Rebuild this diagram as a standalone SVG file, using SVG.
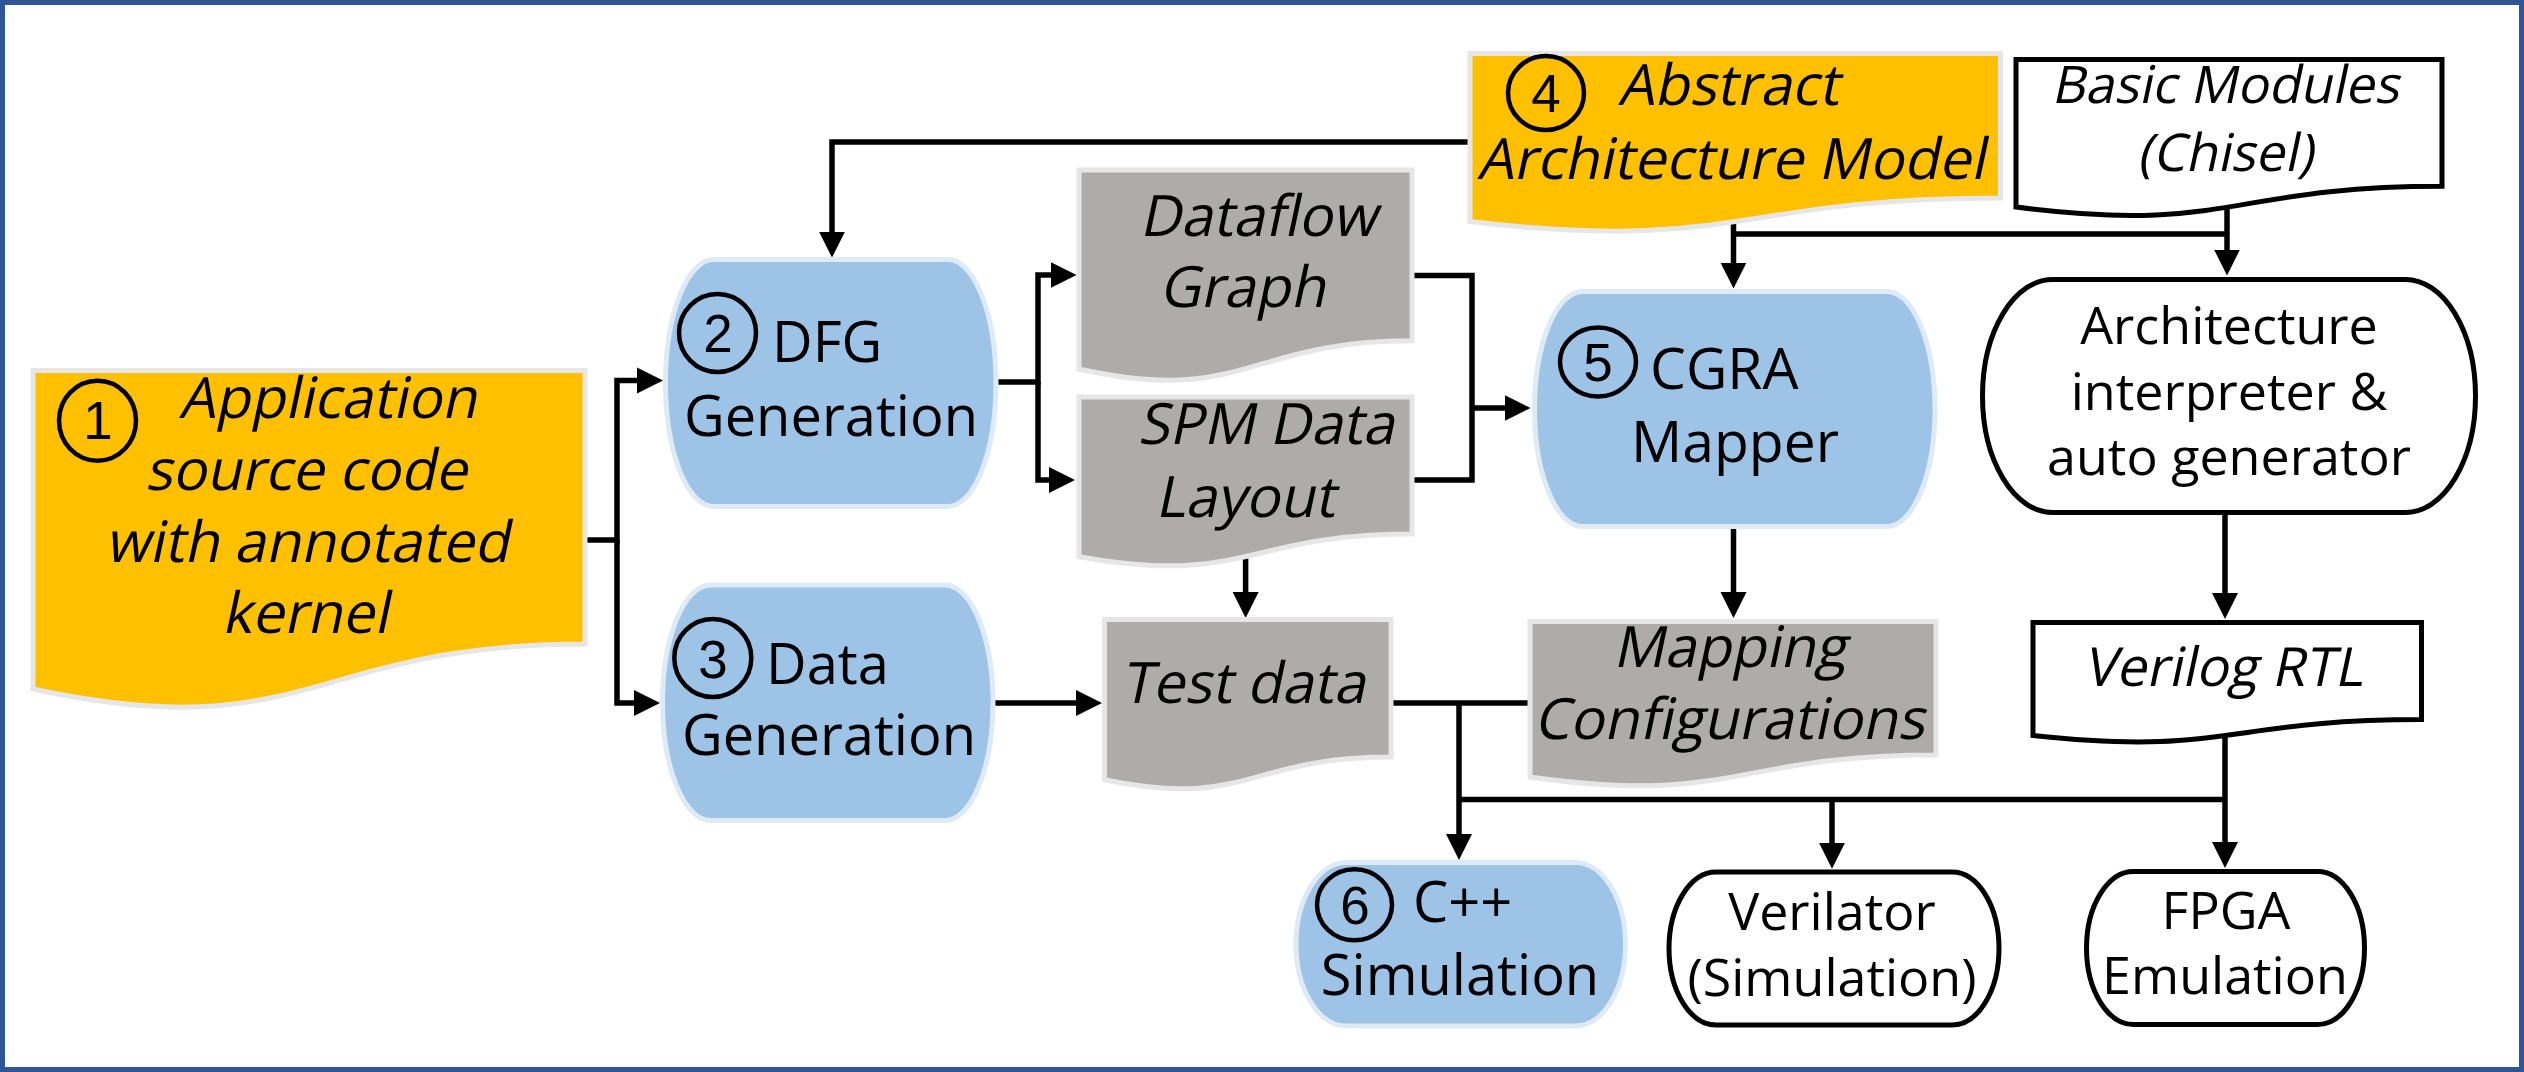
<svg xmlns="http://www.w3.org/2000/svg" width="2524" height="1072" viewBox="0 0 2524 1072">
<defs>
<style>
.doc-o{fill:#FFC000;stroke:#E7E6E6;stroke-width:5}
.doc-g{fill:#AFABAB;stroke:#E7E6E6;stroke-width:5}
.doc-w{fill:#FFFFFF;stroke:#000;stroke-width:5}
.bar-b{fill:#9DC3E6;stroke:#DEEBF7;stroke-width:5}
.bar-w{fill:#FFFFFF;stroke:#000;stroke-width:5}
.t{font-family:"Open Sans","Noto Sans",sans-serif;fill:#000}
.d{font-family:"Liberation Sans",Arial,sans-serif;fill:#000;text-anchor:middle;font-size:53px}
.m{text-anchor:middle}
.num{fill:none;stroke:#000;stroke-width:4.5}
.c{fill:none;stroke:#000;stroke-width:5.5;stroke-linejoin:miter}
.a{marker-end:url(#ah)}
</style>
<marker id="ah" markerUnits="userSpaceOnUse" markerWidth="26" markerHeight="28" viewBox="0 0 26 28" refX="16" refY="14" orient="auto"><path d="M0,1 L26,14 L0,27 Z" fill="#000"/></marker>
</defs>
<rect x="0" y="0" width="2524" height="1072" fill="#FFFFFF"/>
<rect x="2.5" y="2.5" width="2519" height="1067" fill="none" stroke="#2F5597" stroke-width="5"/>

<g id="connectors">
<path class="c a" d="M585,540 H617 V380.5 H653"/>
<path class="c a" d="M617,540 V703 H650"/>
<path class="c a" d="M1470,142 H832 V247.6"/>
<path class="c a" d="M996,382 H1038 V275 H1066.5"/>
<path class="c a" d="M1038,382 V480 H1065"/>
<path class="c" d="M1412,275.5 H1472 V480 H1412"/>
<path class="c a" d="M1472,408 H1520.5"/>
<path class="c a" d="M1733.5,222 V278.6"/>
<path class="c" d="M1733.5,234 H2227"/>
<path class="c a" d="M2227,205 V265.5"/>
<path class="c a" d="M1245.6,550 V608"/>
<path class="c a" d="M993,703 H1092"/>
<path class="c a" d="M1733.5,526 V608"/>
<path class="c" d="M1391,703 H1530"/>
<path class="c a" d="M1459,703 V850"/>
<path class="c" d="M1459,799.6 H2225"/>
<path class="c a" d="M1832,799.6 V858.8"/>
<path class="c a" d="M2225,512 V609"/>
<path class="c a" d="M2225,735 V858"/>
</g>

<g id="n1">
<path class="doc-o" d="M33,370.5 H585 V644 C309,644 309,748.2 33,689 Z"/>
<ellipse class="num" cx="97.5" cy="420.7" rx="38.5" ry="40"/>
<text class="d" x="98" y="439">1</text>
<text class="t" font-size="57" transform="translate(179,417.5) skewX(-12)">Application</text>
<text class="t m" font-size="57" transform="translate(306,489.5) skewX(-12)">source code</text>
<text class="t m" font-size="57" transform="translate(307,561.5) skewX(-12)">with annotated</text>
<text class="t m" font-size="57" transform="translate(305,633) skewX(-12)">kernel</text>
</g>

<g id="n2">
<path class="bar-b" d="M713.5,259.5 H948 A48,123.5 0 0 1 948,506.5 H713.5 A48,123.5 0 0 1 713.5,259.5 Z"/>
<ellipse class="num" cx="717.5" cy="333" rx="38.5" ry="39"/>
<text class="d" x="718" y="352">2</text>
<text class="t" x="772" y="362" font-size="56">DFG</text>
<text class="t m" x="831" y="435.7" font-size="56">Generation</text>
</g>

<g id="n3">
<path class="bar-b" d="M710.5,585 H945 A48,117.75 0 0 1 945,820.5 H710.5 A48,117.75 0 0 1 710.5,585 Z"/>
<ellipse class="num" cx="712.8" cy="658" rx="38.5" ry="39"/>
<text class="d" x="713" y="677.5">3</text>
<text class="t" x="766" y="684" font-size="56">Data</text>
<text class="t m" x="829" y="755.4" font-size="56">Generation</text>
</g>

<g id="n4">
<path class="doc-o" d="M1470,53.5 H2000.5 V197.9 C1735.25,197.9 1735.25,252.9 1470,221.6 Z"/>
<ellipse class="num" cx="1546" cy="93" rx="38" ry="37"/>
<text class="d" x="1546" y="112">4</text>
<text class="t" font-size="57" transform="translate(1618,105) skewX(-12)">Abstract</text>
<text class="t m" font-size="57" transform="translate(1731,179) skewX(-12)">Architecture Model</text>
</g>

<g id="basic">
<path class="doc-w" d="M2016,59.5 H2442 V186.2 C2229,186.2 2229,234.5 2016,207.1 Z"/>
<text class="t m" font-size="52" transform="translate(2225,103.3) skewX(-12)">Basic Modules</text>
<text class="t m" font-size="52" transform="translate(2225,170.5) skewX(-12)">(Chisel)</text>
</g>

<g id="dfgraph">
<path class="doc-g" d="M1079,170 H1412 V340.8 C1245.5,340.8 1245.5,405.9 1079,369 Z"/>
<text class="t m" font-size="57" transform="translate(1258,236) skewX(-12)">Dataflow</text>
<text class="t m" font-size="57" transform="translate(1242,306.5) skewX(-12)">Graph</text>
</g>

<g id="spm">
<path class="doc-g" d="M1079,397 H1412 V534.1 C1245.5,534.1 1245.5,586.4 1079,556.7 Z"/>
<text class="t m" font-size="57" transform="translate(1266,444) skewX(-12)">SPM Data</text>
<text class="t m" font-size="57" transform="translate(1245,516.6) skewX(-12)">Layout</text>
</g>

<g id="n5">
<path class="bar-b" d="M1582.5,291.5 H1887 A48,117.5 0 0 1 1887,526.5 H1582.5 A48,117.5 0 0 1 1582.5,291.5 Z"/>
<ellipse class="num" cx="1598" cy="362" rx="38" ry="34.5"/>
<text class="d" x="1598" y="381">5</text>
<text class="t" x="1650" y="389" font-size="57">CGRA</text>
<text class="t m" x="1735" y="461.5" font-size="57">Mapper</text>
</g>

<g id="arch">
<path class="bar-w" d="M2052.5,279.5 H2405.5 A70,116.5 0 0 1 2405.5,512.5 H2052.5 A70,116.5 0 0 1 2052.5,279.5 Z"/>
<text class="t m" x="2229" y="344.4" font-size="52">Architecture</text>
<text class="t m" x="2229" y="410" font-size="52">interpreter &amp;</text>
<text class="t m" x="2229" y="475" font-size="52">auto generator</text>
</g>

<g id="testdata">
<path class="doc-g" d="M1104.5,619.5 H1391 V757 C1247.75,757 1247.75,809.4 1104.5,779.7 Z"/>
<text class="t m" font-size="57" transform="translate(1243,703) skewX(-12)">Test data</text>
</g>

<g id="mapping">
<path class="doc-g" d="M1530,621.5 H1936 V755 C1733,755 1733,805.9 1530,777 Z"/>
<text class="t m" font-size="57" transform="translate(1729.5,666.5) skewX(-12)">Mapping</text>
<text class="t m" font-size="57" transform="translate(1729,739) skewX(-12)">Configurations</text>
</g>

<g id="verilog">
<path class="doc-w" d="M2033,622.5 H2421.5 V719.5 C2227,719.5 2227,756.5 2033,735.5 Z"/>
<text class="t m" font-size="54" transform="translate(2223,685.6) skewX(-12)">Verilog RTL</text>
</g>

<g id="n6">
<path class="bar-b" d="M1346,862.5 H1575.5 A50,81.75 0 0 1 1575.5,1026 H1346 A50,81.75 0 0 1 1346,862.5 Z"/>
<ellipse class="num" cx="1354.5" cy="904.7" rx="37.5" ry="35.5"/>
<text class="d" x="1355" y="924">6</text>
<text class="t" x="1413" y="922" font-size="56">C++</text>
<text class="t m" x="1460" y="995" font-size="56">Simulation</text>
</g>

<g id="verilator">
<path class="bar-w" d="M1716,872 H1952 A47,76.5 0 0 1 1952,1025 H1716 A47,76.5 0 0 1 1716,872 Z"/>
<text class="t m" x="1832" y="930" font-size="52">Verilator</text>
<text class="t m" x="1832" y="996" font-size="52">(Simulation)</text>
</g>

<g id="fpga">
<path class="bar-w" d="M2133.5,871.5 H2317.5 A47,76.5 0 0 1 2317.5,1024.5 H2133.5 A47,76.5 0 0 1 2133.5,871.5 Z"/>
<text class="t m" x="2226" y="929" font-size="52">FPGA</text>
<text class="t m" x="2225" y="994" font-size="52">Emulation</text>
</g>
</svg>
